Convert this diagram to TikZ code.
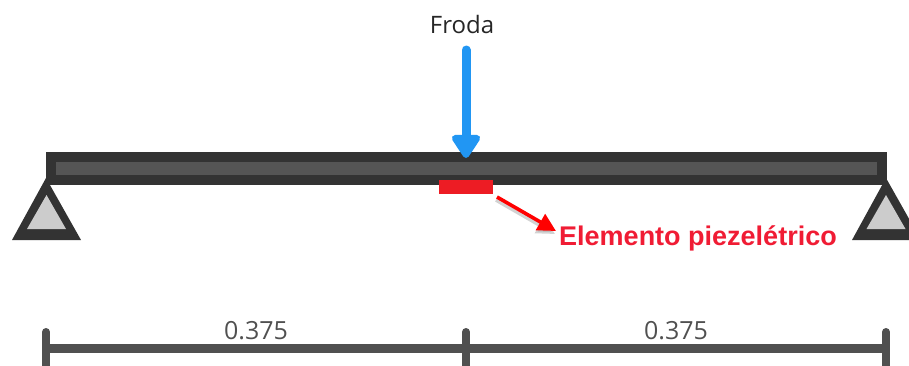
\documentclass[tikz,border=0pt]{standalone}
\usepackage{fontspec}
\setmainfont{Open Sans}
\newfontfamily\labelfont{Liberation Sans}
\usetikzlibrary{arrows.meta}
\definecolor{beamdark}{HTML}{333333}
\definecolor{beamfill}{HTML}{555555}
\definecolor{dimgrey}{HTML}{505050}
\definecolor{supfill}{HTML}{CCCCCC}
\definecolor{forceblue}{HTML}{2196F3}
\definecolor{piezored}{HTML}{ED1C24}
\definecolor{textred}{HTML}{F01C34}
\tikzset{
  x=1pt,y=-1pt,
  beam/.style={draw=beamdark,fill=beamfill,line width=10pt,miter limit=10},
  supouter/.style={fill=beamdark},
  supinner/.style={fill=supfill},
  dimline/.style={draw=dimgrey,line width=9pt},
  dimtick/.style={draw=dimgrey,line width=8pt,line cap=round},
  dimtext/.style={text=dimgrey,font=\fontsize{25}{27}\selectfont,inner sep=0pt,anchor=base},
  force/.style={draw=forceblue,line width=9pt,line cap=round,-{Triangle[length=26pt,width=32pt,round]}},
  leader/.style={draw=red,line width=3.6pt,-{Triangle[length=18pt,width=18pt]}},
  leadershadow/.style={draw=black!35,line width=3.6pt,-{Triangle[length=18pt,width=18pt]}},
}
\begin{document}
\begin{tikzpicture}
\useasboundingbox (0,0) rectangle (909,365);
\clip (0,0) rectangle (909,365);
% supports
\fill[supouter] (46,178) -- (81,240) -- (12,240) -- cycle;
\fill[supinner] (46.5,195) -- (66,229) -- (27,229) -- cycle;
\fill[supouter] (886,178) -- (921,240) -- (852,240) -- cycle;
\fill[supinner] (886,195) -- (905.5,229) -- (866.5,229) -- cycle;
% beam
\draw[beam] (51,156.5) rectangle (881.5,179.5);
% piezo
\node[fill=piezored,minimum width=54pt,minimum height=14pt,inner sep=0pt,anchor=center] (piezo) at (466,187) {};
% force
\node[font=\fontsize{24}{26}\selectfont,inner sep=0pt,text=black!85,anchor=base] (froda) at (462,33.5) {Froda};
\coordinate (forcestart) at (466,50);
\coordinate (forceend) at (466,158);
\draw[force] (forcestart) -- (forceend);
% leader
\coordinate (leadstart) at (497,197);
\coordinate (leadend) at (556,231);
\node[anchor=base west,inner sep=0pt,text=textred,font=\labelfont\bfseries\fontsize{27}{29}\selectfont] (plabel) at (559,245) {Elemento piezelétrico};
\draw[leadershadow,opacity=.5] ([shift={(-1,3)}]leadstart) -- ([shift={(-1,3)}]leadend);
\draw[leader] (leadstart) -- (leadend);
% dimension
\coordinate (d1) at (46,348);
\coordinate (d2) at (466,348);
\coordinate (d3) at (886,348);
\draw[dimline] (d1) -- (d3);
\draw[dimtick] (46,332) -- (46,372);
\draw[dimtick] (466,332) -- (466,372);
\draw[dimtick] (886,332) -- (886,372);
\node[dimtext] (t1) at (256,339) {0.375};
\node[dimtext] (t2) at (676,339) {0.375};
\end{tikzpicture}
\end{document}
